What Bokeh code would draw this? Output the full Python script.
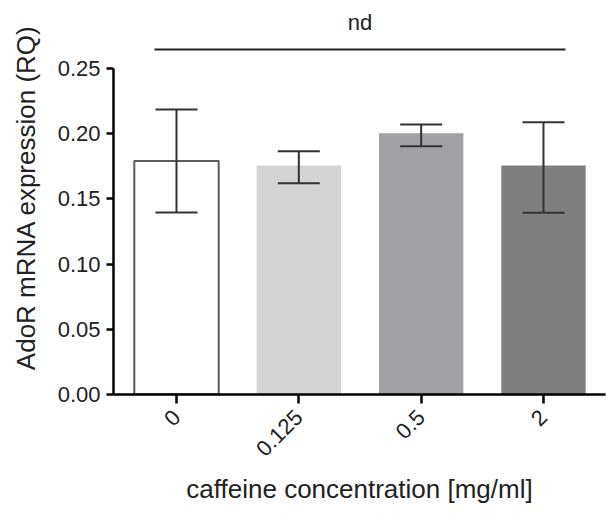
import math
from bokeh.plotting import figure
from bokeh.models import Range1d, FixedTicker, ColumnDataSource, Whisker, TeeHead
from bokeh.core.properties import value
from bokeh.embed import file_html
from bokeh.resources import INLINE

# ---- data ----
categories = ["0", "0.125", "0.5", "2"]
means = [0.179, 0.1755, 0.2004, 0.1755]
err_upper = [0.2186, 0.1866, 0.2070, 0.2088]
err_lower = [0.1396, 0.1620, 0.1904, 0.1393]
bar_colors = ["#ffffff", "#d4d4d4", "#a1a1a4", "#7f7f7f"]
bar_line_alpha = [1.0, 0.0, 0.0, 0.0]
sig_text = "nd"
sig_level = 0.2646
sig_text_level = 0.2855
y_ticks = [0.0, 0.05, 0.10, 0.15, 0.20, 0.25]

FONT = "Liberation Sans"
xs = list(range(len(categories)))

p = figure(width=606, height=513, output_backend="svg", toolbar_location=None,
           x_range=Range1d(-0.515, 3.507), y_range=Range1d(0, 0.3021),
           min_border_left=113, min_border_right=1, min_border_top=0,
           min_border_bottom=119)
p.outline_line_color = None
p.xgrid.visible = False
p.ygrid.visible = False
p.background_fill_color = "white"
p.border_fill_color = "white"

src = ColumnDataSource(dict(x=xs, top=means, color=bar_colors, la=bar_line_alpha,
                            upper=err_upper, lower=err_lower))
p.vbar(x="x", top="top", width=0.69, bottom=0, source=src, fill_color="color",
       line_color="#5a5a5a", line_alpha="la", line_width=2)

w = Whisker(source=src, base="x", upper="upper", lower="lower",
            line_color="#333333", line_width=2, level="overlay",
            upper_head=TeeHead(size=42, line_color="#333333", line_width=2),
            lower_head=TeeHead(size=42, line_color="#333333", line_width=2))
p.add_layout(w)

# significance bracket
p.line(x=[xs[0] - 0.18, xs[-1] + 0.18], y=[sig_level, sig_level], line_color="#222222", line_width=2)
p.text(x=[(xs[0] + xs[-1]) / 2], y=[sig_text_level], text=[sig_text], text_align="center",
       text_baseline="middle", text_font=value(FONT), text_font_size="22px", text_color="#222222")

# axes
ya = p.yaxis[0]
ya.bounds = (0, 0.25)
ya.ticker = FixedTicker(ticks=y_ticks)
ya.major_label_overrides = {t: f"{t:.2f}" for t in y_ticks}
ya.minor_tick_line_color = None
ya.major_tick_in = 0
ya.major_tick_out = 7
ya.axis_line_width = 2.5
ya.major_tick_line_width = 2.5
ya.axis_line_color = "black"
ya.major_tick_line_color = "black"
ya.major_label_text_font = FONT
ya.major_label_text_font_size = "22px"
ya.major_label_text_color = "#222222"
ya.major_label_standoff = 6
ya.axis_label = "AdoR mRNA expression (RQ)"
ya.axis_label_text_font = FONT
ya.axis_label_text_font_size = "26px"
ya.axis_label_text_font_style = "normal"
ya.axis_label_text_color = "#222222"
ya.axis_label_standoff = 14

xa = p.xaxis[0]
xa.ticker = FixedTicker(ticks=xs)
xa.major_label_overrides = {i: c for i, c in zip(xs, categories)}
xa.minor_tick_line_color = None
xa.major_tick_in = 0
xa.major_tick_out = 9
xa.axis_line_width = 2.5
xa.major_tick_line_width = 2.5
xa.axis_line_color = "black"
xa.major_tick_line_color = "black"
xa.major_label_orientation = math.pi / 4
xa.major_label_text_font = FONT
xa.major_label_text_font_size = "22px"
xa.major_label_text_color = "#222222"
xa.major_label_standoff = 10
xa.axis_label = "caffeine concentration [mg/ml]"
xa.axis_label_text_font = FONT
xa.axis_label_text_font_size = "26px"
xa.axis_label_text_font_style = "normal"
xa.axis_label_text_color = "#222222"
xa.axis_label_standoff = 8

open("out.html", "w").write(file_html(p, INLINE))
